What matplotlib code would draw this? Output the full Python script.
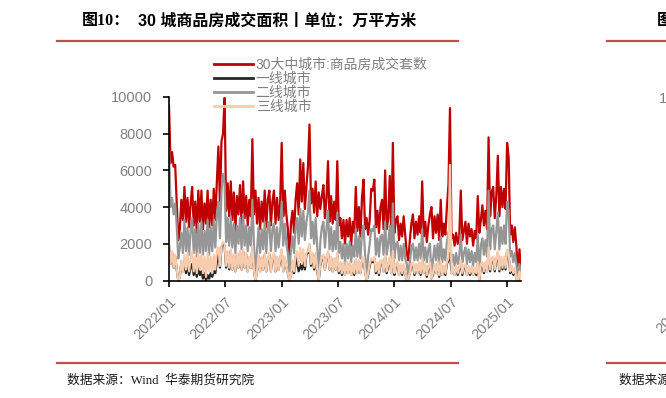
import matplotlib
matplotlib.use("Agg")
import matplotlib.pyplot as plt
import pandas as pd
from matplotlib.lines import Line2D

plt.rcParams['font.family'] = ['Liberation Sans', 'Noto Sans CJK SC', 'DejaVu Sans']

title_prefix = "图10："
title_main = "30 城商品房成交面积丨单位：万平方米"
source_text = "数据来源：Wind  华泰期货研究院"
series_names = ["30大中城市:商品房成交套数", "一线城市", "二线城市", "三线城市"]
start_date = "2022-01-01"
step = "5D"

red = [9500, 6400, 7000, 6200, 6300, 4200, 2200, 2800, 4400, 3300,
       5100, 3200, 4500, 2900, 4200, 5100, 3000, 4300, 2600, 4900,
       3200, 4900, 2800, 4200, 3100, 4900, 2900, 4400, 3000, 5000,
       3300, 5400, 7300, 4200, 7600, 8000, 9950, 3800, 5300, 3500,
       5400, 3300, 4800, 2700, 4600, 3600, 5200, 3100, 5400, 3400,
       4600, 3000, 4400, 3500, 7700, 3600, 4900, 3100, 4500, 2800,
       4300, 3200, 4900, 2900, 4400, 4900, 3000, 4300, 4900, 3100,
       4500, 3300, 4200, 7500, 3500, 4900, 3600, 2800, 1100, 3100,
       3800, 2600, 4400, 5300, 3600, 6600, 4300, 6400, 3900, 5100,
       6200, 8500, 4200, 5000, 3700, 5400, 3500, 4800, 3900, 4600,
       5200, 3400, 4500, 6500, 3200, 4600, 3100, 4300, 3300, 6500,
       3000, 3400, 2300, 3300, 2000, 3300, 2400, 3400, 1900, 3200,
       2600, 5100, 2700, 4000, 2400, 4500, 5500, 2800, 3400, 2500,
       3300, 5000, 4900, 5500, 2900, 3800, 2600, 4000, 4400, 2800,
       6000, 2800, 3400, 5700, 2500, 7500, 2600, 3300, 3500, 2200,
       3100, 2400, 3500, 2500, 1500, 1100, 2200, 3100, 3600, 2300,
       3200, 2500, 3500, 2600, 5400, 2400, 3200, 2100, 3000, 3600,
       4000, 2300, 3500, 2600, 3600, 2200, 4400, 2400, 3100, 2500,
       4000, 5200, 9400, 2300, 2500, 1900, 2600, 2000, 2400, 4900,
       2200, 2700, 3200, 2000, 3100, 2400, 2800, 1900, 2700, 2300,
       4600, 2600, 3300, 4100, 3000, 3800, 2800, 7800, 3500, 4800,
       5100, 3400, 4600, 6800, 3500, 5100, 4000, 5000, 3900, 7500,
       6700, 2500, 3000, 2100, 2900, 1900, 300, 1700, 400]

tier1 = [1900, 900, 1500, 700, 1300, 600, 0, 200, 1000, 500,
         1000, 400, 900, 300, 700, 900, 300, 600, 200, 700,
         300, 500, 100, 400, 0, 300, 100, 400, 200, 500,
         400, 1000, 1600, 700, 1800, 2000, 1900, 700, 1500, 600,
         1600, 600, 1300, 500, 1400, 700, 1500, 600, 1600, 700,
         1400, 500, 1200, 700, 1800, 600, 0, 500, 1300, 500,
         1200, 600, 1400, 500, 1100, 1400, 500, 1200, 1400, 500,
         1200, 600, 1100, 1600, 500, 1200, 700, 400, 0, 300,
         1000, 400, 1300, 900, 500, 900, 600, 1000, 600, 1400,
         1500, 1900, 800, 1400, 600, 1400, 500, 0, 800, 1200,
         1300, 600, 1200, 1500, 600, 1200, 500, 1100, 600, 1400,
         400, 900, 300, 900, 300, 900, 400, 900, 300, 800,
         300, 1100, 400, 1000, 400, 1000, 1200, 500, 0, 300,
         800, 1100, 1000, 1200, 400, 900, 300, 1000, 1000, 500,
         1300, 400, 800, 1200, 400, 1500, 300, 800, 900, 300,
         800, 300, 800, 400, 0, 100, 400, 800, 900, 300,
         800, 400, 900, 300, 1100, 400, 800, 200, 700, 900,
         100, 300, 800, 400, 900, 200, 1000, 300, 700, 300,
         900, 1100, 1500, 400, 600, 300, 700, 300, 600, 1000,
         300, 700, 800, 300, 700, 300, 700, 300, 600, 300,
         900, 0, 800, 900, 400, 900, 500, 1500, 500, 1100,
         1200, 500, 1100, 1500, 500, 1200, 600, 1200, 600, 1600,
         1400, 400, 700, 300, 600, 100, 0, 400, 0]

tier2 = [7200, 4000, 4500, 3600, 4200, 3000, 1200, 1800, 2600, 1500,
         3300, 1600, 2900, 1400, 2700, 3400, 1500, 2800, 1300, 3100,
         1500, 3200, 1400, 2700, 1600, 3300, 1400, 2900, 1600, 3300,
         1800, 3600, 4300, 2300, 4900, 5800, 5300, 2100, 3400, 1900,
         3500, 1800, 3100, 1500, 3000, 2000, 3400, 1700, 3600, 1900,
         3000, 1600, 2900, 1900, 4400, 2000, 300, 1600, 2900, 1500,
         2800, 1700, 3200, 1500, 2900, 3200, 1600, 2800, 3100, 1600,
         2900, 1800, 2700, 4300, 1900, 3100, 2000, 1500, 500, 1700,
         2400, 1500, 2900, 3400, 2000, 3900, 2400, 3800, 2200, 3200,
         3700, 4900, 2300, 3200, 2000, 3400, 1900, 300, 2100, 2900,
         3200, 1800, 2800, 3800, 1700, 2900, 1600, 2700, 1700, 3700,
         1500, 2100, 1200, 2000, 1000, 2000, 1200, 2100, 1000, 1900,
         1300, 2800, 1300, 2400, 1200, 2600, 3000, 1400, 300, 1300,
         2000, 2800, 2700, 3000, 1400, 2300, 1300, 2400, 2500, 1400,
         3200, 1400, 2000, 3000, 1200, 4200, 1200, 2000, 2100, 1100,
         1900, 1100, 2000, 1200, 900, 300, 1000, 1800, 2000, 1100,
         1800, 1100, 2000, 1200, 2800, 1100, 1800, 1000, 1700, 2000,
         300, 1100, 1900, 1100, 2000, 1000, 2400, 1000, 1700, 1100,
         2100, 2600, 2900, 1000, 1400, 800, 1500, 900, 1300, 2500,
         1000, 1500, 1800, 900, 1700, 1000, 1600, 800, 1500, 1000,
         2500, 300, 1900, 2300, 1400, 2200, 1300, 4900, 1700, 2800,
         3000, 1700, 2700, 3700, 1700, 2900, 2000, 3000, 2000, 4300,
         3800, 1300, 1600, 1000, 1500, 900, 200, 900, 200]

tier3 = [2000, 900, 1600, 700, 1400, 600, 0, 200, 1100, 500,
         1400, 600, 1500, 500, 1200, 1600, 500, 1300, 400, 1500,
         600, 1400, 400, 1300, 200, 1500, 500, 1300, 400, 1400,
         600, 1600, 1800, 800, 1900, 2100, 2000, 800, 1600, 700,
         1700, 600, 1400, 500, 1500, 700, 1600, 600, 1700, 700,
         1500, 500, 1300, 700, 1900, 600, 0, 500, 1400, 500,
         1300, 600, 1500, 500, 1200, 1500, 500, 1300, 1500, 500,
         1300, 600, 1200, 1700, 500, 1300, 700, 400, 0, 300,
         1100, 500, 1400, 1600, 800, 1800, 900, 1700, 800, 1500,
         1600, 2000, 900, 1500, 700, 1500, 600, 0, 900, 1300,
         1400, 600, 1300, 1600, 600, 1300, 500, 1200, 600, 1500,
         500, 1000, 400, 1000, 300, 1000, 400, 1000, 300, 900,
         400, 1200, 400, 1100, 400, 1100, 1300, 500, 0, 400,
         900, 1200, 1100, 1300, 500, 1000, 400, 1100, 1100, 500,
         1400, 500, 900, 1300, 400, 1600, 400, 900, 1000, 300,
         900, 400, 900, 400, 0, 100, 400, 900, 1000, 400,
         900, 400, 1000, 400, 1200, 400, 900, 300, 800, 1000,
         100, 400, 900, 400, 1000, 300, 1100, 300, 800, 400,
         1000, 1200, 6300, 400, 700, 300, 800, 400, 700, 1100,
         400, 800, 900, 300, 800, 400, 800, 300, 700, 400,
         1000, 0, 900, 1000, 500, 1000, 500, 1800, 600, 1200,
         1300, 600, 1200, 1600, 600, 1300, 700, 1300, 700, 1700,
         1500, 500, 800, 400, 700, 100, 0, 500, 0]

y_ticks = [0, 2000, 4000, 6000, 8000, 10000]
x_tick_dates = ["2022-01-01", "2022-07-01", "2023-01-01", "2023-07-01",
                "2024-01-01", "2024-07-01", "2025-01-01"]
x_tick_labels = ["2022/01", "2022/07", "2023/01", "2023/07", "2024/01", "2024/07", "2025/01"]

dates = pd.date_range(start_date, periods=len(red), freq=step)

W, H = 666, 398
fig = plt.figure(figsize=(W / 100, H / 100), dpi=100)
ax = fig.add_axes([169 / W, 1 - 280.5 / H, (521 - 169) / W, (280.5 - 97) / H])

colors = ["#C00000", "#262626", "#969696", "#F8CBAD"]
for vals, c, name in zip([red, tier1, tier2, tier3], colors, series_names):
    ax.plot(dates, vals, color=c, lw=1.6, label=name)

ax.set_xlim(dates[0], dates[-1])
ax.set_ylim(0, 10000)
ax.set_yticks(y_ticks)
ax.set_yticklabels([str(v) for v in y_ticks])
ax.set_xticks(pd.to_datetime(x_tick_dates))
ax.set_xticklabels(x_tick_labels, rotation=45, ha='right', rotation_mode='anchor')
for s in ['top', 'right']:
    ax.spines[s].set_visible(False)
for s in ['left', 'bottom']:
    ax.spines[s].set_color('black')
    ax.spines[s].set_linewidth(1.2)
ax.tick_params(axis='both', colors='black', labelcolor='#808080', labelsize=10.5,
               length=4, width=1.2, direction='out')
ax.tick_params(axis='y', pad=8)
ax.tick_params(axis='x', pad=6)

leg = fig.legend(loc='upper left', bbox_to_anchor=(214 / W, 1 - 58 / H), frameon=False,
                 fontsize=10, labelcolor='#808080', handlelength=2.8, handletextpad=0.2,
                 labelspacing=0.0, borderpad=0, borderaxespad=0)
for h in leg.get_lines():
    h.set_linewidth(2)

# title
fig.text(82 / W, 1 - 21 / H, title_prefix, fontsize=11.5, fontweight='bold',
         family=['Liberation Serif', 'Noto Sans CJK SC'], va='center', ha='left')
fig.text(138 / W, 1 - 21 / H, title_main, fontsize=11.5, fontweight='bold',
         family=['Liberation Sans', 'Noto Sans CJK SC'], va='center', ha='left')

# separators
line_col = '#C0504D'
fig.add_artist(Line2D([57 / W, 458 / W], [1 - 40.5 / H] * 2, color=line_col, lw=1.6))
fig.add_artist(Line2D([57 / W, 458 / W], [1 - 362.7 / H] * 2, color=line_col, lw=1.6))
fig.add_artist(Line2D([607 / W, 1.0], [1 - 40.5 / H] * 2, color=line_col, lw=1.6))
fig.add_artist(Line2D([607 / W, 1.0], [1 - 362.7 / H] * 2, color=line_col, lw=1.6))

fig.text(67 / W, 1 - 380 / H, source_text, fontsize=9.2,
         family=['Liberation Serif', 'Noto Sans CJK SC'], va='center', ha='left', color='#1a1a1a')
# neighbouring chart (cut by the right edge, as in the reference)
fig.text(619 / W, 1 - 380 / H, source_text, fontsize=9.2,
         family=['Liberation Serif', 'Noto Sans CJK SC'], va='center', ha='left', color='#1a1a1a')
fig.text(657 / W, 1 - 21 / H, "图11：", fontsize=11.5, fontweight='bold',
         family=['Liberation Serif', 'Noto Sans CJK SC'], va='center', ha='left')
fig.text(659 / W, 1 - 99 / H, "10000", fontsize=10.5, color='#808080', va='center', ha='left')
fig.text(663 / W, 1 - 336 / H, "2022/01", fontsize=10.5, color='#808080', rotation=45,
         rotation_mode='anchor', ha='left', va='bottom')

fig.savefig("out.png", dpi=100)
